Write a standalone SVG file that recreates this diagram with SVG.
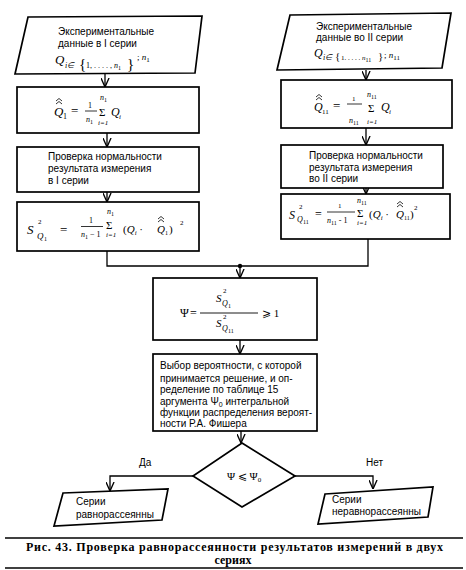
<svg xmlns="http://www.w3.org/2000/svg" width="466" height="570" viewBox="0 0 466 570">
<defs>
<style>
.b{fill:#fff;stroke:#000;stroke-width:1.7;stroke-linejoin:miter}
.c{fill:none;stroke:#000;stroke-width:1.3}
.h{fill:none;stroke:#000;stroke-width:0.8}
.t{font-family:"Liberation Sans",Arial,sans-serif;font-size:10px;fill:#000}
.m{font-family:"Liberation Serif","Times New Roman",serif;font-style:italic;fill:#000}
.r{font-family:"Liberation Serif","Times New Roman",serif;fill:#000}
.cap{font-family:"Liberation Serif","Times New Roman",serif;font-weight:bold;font-size:12px;fill:#000}
</style>
<marker id="a" viewBox="0 0 10 10" refX="10" refY="5" markerWidth="9" markerHeight="9" markerUnits="userSpaceOnUse" orient="auto">
<path d="M0,0.5 L10,5 L0,9.5" fill="none" stroke="#000" stroke-width="1.5"/>
</marker>
</defs>
<rect width="466" height="570" fill="#fff"/>

<g id="connectors">
<line class="c" x1="105" y1="74" x2="105" y2="87" marker-end="url(#a)"/>
<line class="c" x1="107" y1="133" x2="107" y2="147" marker-end="url(#a)"/>
<line class="c" x1="107" y1="192" x2="107" y2="202" marker-end="url(#a)"/>
<line class="c" x1="366" y1="70" x2="366" y2="80" marker-end="url(#a)"/>
<line class="c" x1="366" y1="128" x2="366" y2="145" marker-end="url(#a)"/>
<line class="c" x1="366" y1="188" x2="366" y2="194" marker-end="url(#a)"/>
<path class="c" d="M107,251 V266 H368 V239"/>
<circle cx="240" cy="266" r="2.2" fill="#000"/>
<line class="c" x1="240" y1="266" x2="240" y2="278" marker-end="url(#a)"/>
<line class="c" x1="240" y1="340" x2="240" y2="354" marker-end="url(#a)"/>
<line class="c" x1="241" y1="431" x2="241" y2="443" marker-end="url(#a)"/>
<path class="c" d="M193,476 H110 V491" marker-end="url(#a)"/>
<path class="c" d="M295,476 H373 V489" marker-end="url(#a)"/>
<text class="t" x="139" y="466">Да</text>
<text class="t" x="366" y="466">Нет</text>
</g>

<g id="input1">
<polygon class="b" points="28,17 202,16 195,73 15,74"/>
<text class="t" x="58" y="35">Экспериментальные</text>
<text class="t" x="58" y="47">данные в I серии</text>
<text class="m" x="55" y="64" font-size="13">Q</text>
<text class="m" x="65" y="68" font-size="8">i∈</text>
<text class="r" x="79" y="69" font-size="15">{</text>
<text class="r" x="86" y="68" font-size="8">1, . . . . , <tspan font-style="italic">n</tspan><tspan font-size="6" dy="1.5">1</tspan></text>
<text class="r" x="127" y="69" font-size="15">}</text>
<text class="r" x="137" y="60" font-size="9">; <tspan font-style="italic">n</tspan><tspan font-size="7" dy="1.5">1</tspan></text>
</g>

<g id="mean1">
<rect class="b" x="17" y="87" width="182" height="46"/>
<path class="h" d="M56,104 L59,101.5 L62,104 M56,101 L59,98.5 L62,101"/>
<text class="m" x="54" y="116" font-size="13">Q</text>
<text class="r" x="63" y="119" font-size="8">1</text>
<text class="r" x="71" y="115" font-size="13">=</text>
<text class="r" x="88" y="108" font-size="8">1</text>
<line x1="85" y1="111" x2="97" y2="111" stroke="#000" stroke-width="0.8"/>
<text class="m" x="86" y="122" font-size="8">n<tspan font-style="normal" font-size="6" dy="2">1</tspan></text>
<text class="m" x="100" y="100" font-size="8">n<tspan font-style="normal" font-size="6" dy="2">1</tspan></text>
<text class="r" x="99" y="116" font-size="11">Σ</text>
<text class="m" x="98" y="125" font-size="7">i=1</text>
<text class="m" x="111" y="116" font-size="12">Q</text>
<text class="m" x="119" y="119" font-size="7">i</text>
</g>

<g id="check1">
<rect class="b" x="17" y="147" width="182" height="45"/>
<text class="t" x="48" y="160">Проверка нормальности</text>
<text class="t" x="48" y="172">результата измерения</text>
<text class="t" x="48" y="184">в I серии</text>
</g>

<g id="var1">
<rect class="b" x="17" y="202" width="182" height="49"/>
<text class="m" x="27" y="234" font-size="13">S</text>
<text class="r" x="38" y="224" font-size="7">2</text>
<text class="m" x="37" y="239" font-size="9">Q</text>
<text class="r" x="44" y="241" font-size="6">1</text>
<text class="r" x="60" y="234" font-size="13">=</text>
<text class="r" x="89" y="223" font-size="8">1</text>
<line x1="81" y1="226.5" x2="103" y2="226.5" stroke="#000" stroke-width="0.8"/>
<text class="m" x="81" y="237" font-size="8">n<tspan font-style="normal" font-size="6" dy="2">1</tspan><tspan font-style="normal" font-size="8" dy="-2"> − 1</tspan></text>
<text class="m" x="107" y="214" font-size="8">n<tspan font-style="normal" font-size="6" dy="2">1</tspan></text>
<text class="r" x="106" y="229" font-size="11">Σ</text>
<text class="m" x="106" y="237" font-size="7">i=1</text>
<text class="r" x="123" y="233" font-size="11">(<tspan font-style="italic">Q</tspan><tspan font-style="italic" font-size="7" dy="2">i</tspan><tspan dy="-2"> · </tspan></text>
<path class="h" d="M158,222 L161,219.5 L164,222 M158,219 L161,216.5 L164,219"/>
<text class="m" x="157" y="233" font-size="11">Q</text>
<text class="r" x="165" y="235" font-size="6">1</text>
<text class="r" x="169" y="233" font-size="11">)</text>
<text class="r" x="180" y="225" font-size="7">2</text>
</g>

<g id="input2">
<polygon class="b" points="290,15 451,13 442,68 277,70"/>
<text class="t" x="316" y="30">Экспериментальные</text>
<text class="t" x="316" y="41">данные во II серии</text>
<text class="m" x="314" y="57" font-size="12">Q</text>
<text class="m" x="323" y="60" font-size="8">i∈</text>
<text class="r" x="335" y="60" font-size="11">{</text>
<text class="r" x="341" y="60" font-size="7">1. . . . . <tspan font-style="italic">n</tspan><tspan font-size="6" dy="1.5">11</tspan></text>
<text class="r" x="378" y="60" font-size="11">}</text>
<text class="r" x="384" y="58" font-size="9">; <tspan font-style="italic">n</tspan><tspan font-size="7" dy="1.5">11</tspan></text>
</g>

<g id="mean2">
<rect class="b" x="281" y="80" width="171" height="48"/>
<path class="h" d="M316,100 L319,97.5 L322,100 M316,97 L319,94.5 L322,97"/>
<text class="m" x="314" y="111" font-size="12">Q</text>
<text class="r" x="322" y="114" font-size="7">11</text>
<text class="r" x="333" y="110" font-size="13">=</text>
<text class="r" x="352" y="101" font-size="7">1</text>
<line x1="347" y1="104" x2="362" y2="104" stroke="#000" stroke-width="0.8"/>
<text class="m" x="349" y="123" font-size="8">n<tspan font-style="normal" font-size="6" dy="2">11</tspan></text>
<text class="m" x="367" y="97" font-size="8">n<tspan font-style="normal" font-size="6" dy="2">11</tspan></text>
<text class="r" x="368" y="112" font-size="11">Σ</text>
<text class="m" x="367" y="124" font-size="7">i=1</text>
<text class="m" x="381" y="111" font-size="12">Q</text>
<text class="m" x="389" y="114" font-size="7">i</text>
</g>

<g id="check2">
<rect class="b" x="281" y="145" width="162" height="43"/>
<text class="t" x="309" y="159">Проверка нормальности</text>
<text class="t" x="309" y="171">результата измерения</text>
<text class="t" x="309" y="182">во II серии</text>
</g>

<g id="var2">
<rect class="b" x="281" y="194" width="169" height="45"/>
<text class="m" x="289" y="219" font-size="12">S</text>
<text class="r" x="299" y="209" font-size="7">2</text>
<text class="m" x="297" y="222" font-size="8">Q</text>
<text class="r" x="303" y="224" font-size="6">11</text>
<text class="r" x="315" y="218" font-size="12">=</text>
<text class="r" x="338" y="208" font-size="7">1</text>
<line x1="327" y1="212" x2="355" y2="212" stroke="#000" stroke-width="0.8"/>
<text class="m" x="327" y="223" font-size="8">n<tspan font-style="normal" font-size="6" dy="2">11</tspan><tspan font-style="normal" font-size="8" dy="-2"> - 1</tspan></text>
<text class="m" x="357" y="203" font-size="8">n<tspan font-style="normal" font-size="6" dy="2">11</tspan></text>
<text class="r" x="357" y="217" font-size="11">Σ</text>
<text class="m" x="357" y="225" font-size="7">i=1</text>
<text class="r" x="369" y="218" font-size="11">(<tspan font-style="italic">Q</tspan><tspan font-style="italic" font-size="7" dy="2">i</tspan><tspan dy="-2"> · </tspan></text>
<path class="h" d="M397,207 L400,204.5 L403,207 M397,204 L400,201.5 L403,204"/>
<text class="m" x="396" y="218" font-size="11">Q</text>
<text class="r" x="404" y="220" font-size="6">11</text>
<text class="r" x="410" y="218" font-size="11">)</text>
<text class="r" x="414" y="210" font-size="7">2</text>
</g>

<g id="ratio">
<rect class="b" x="153" y="278" width="164" height="62"/>
<text class="r" x="180" y="317" font-size="12">Ψ</text>
<text class="r" x="190" y="317" font-size="12">=</text>
<line x1="200" y1="313" x2="258" y2="313" stroke="#000" stroke-width="0.9"/>
<text class="m" x="216" y="302" font-size="11">S</text>
<text class="r" x="223" y="293" font-size="7">2</text>
<text class="m" x="222" y="306" font-size="8">Q</text>
<text class="r" x="228" y="308" font-size="6">1</text>
<text class="m" x="216" y="327" font-size="11">S</text>
<text class="r" x="223" y="319" font-size="7">2</text>
<text class="m" x="222" y="331" font-size="8">Q</text>
<text class="r" x="228" y="333" font-size="6">11</text>
<text class="r" x="262" y="317" font-size="11">⩾ 1</text>
</g>

<g id="choice">
<rect class="b" x="153" y="354" width="164" height="77"/>
<text class="t" x="160" y="369" font-size="10.5">Выбор вероятности, с которой</text>
<text class="t" x="160" y="382" font-size="10.5">принимается решение, и оп-</text>
<text class="t" x="160" y="393" font-size="10.5">ределение по таблице 15</text>
<text class="t" x="160" y="405" font-size="10.5">аргумента Ψ<tspan font-size="7" dy="2">0</tspan><tspan dy="-2"> интегральной</tspan></text>
<text class="t" x="160" y="416" font-size="10.5">функции распределения вероят-</text>
<text class="t" x="160" y="427" font-size="10.5">ности Р.А. Фишера</text>
</g>

<g id="decision">
<polygon class="b" points="242,443 295,476 242,507 193,476"/>
<text class="r" x="227" y="480" font-size="11">Ψ ⩽ Ψ<tspan font-size="7" dy="2">0</tspan></text>
</g>

<g id="yes">
<polygon class="b" points="63,493 168,489 162,520 54,526"/>
<text class="t" x="76" y="505">Серии</text>
<text class="t" x="76" y="518">равнорассеянны</text>
</g>

<g id="no">
<polygon class="b" points="325,494 433,487 428,517 318,524"/>
<text class="t" x="332" y="503">Серии</text>
<text class="t" x="332" y="515" font-size="9.3">неравнорассеянны</text>
</g>

<g id="caption">
<line x1="5" y1="538" x2="463" y2="538" stroke="#000" stroke-width="1.3"/>
<text class="cap" x="26" y="551" textLength="417" lengthAdjust="spacing">Рис. 43. Проверка равнорассеянности результатов измерений в двух</text>
<text class="cap" x="233" y="564" text-anchor="middle">сериях</text>
<line x1="5" y1="568" x2="463" y2="568" stroke="#000" stroke-width="1.3"/>
</g>
</svg>
